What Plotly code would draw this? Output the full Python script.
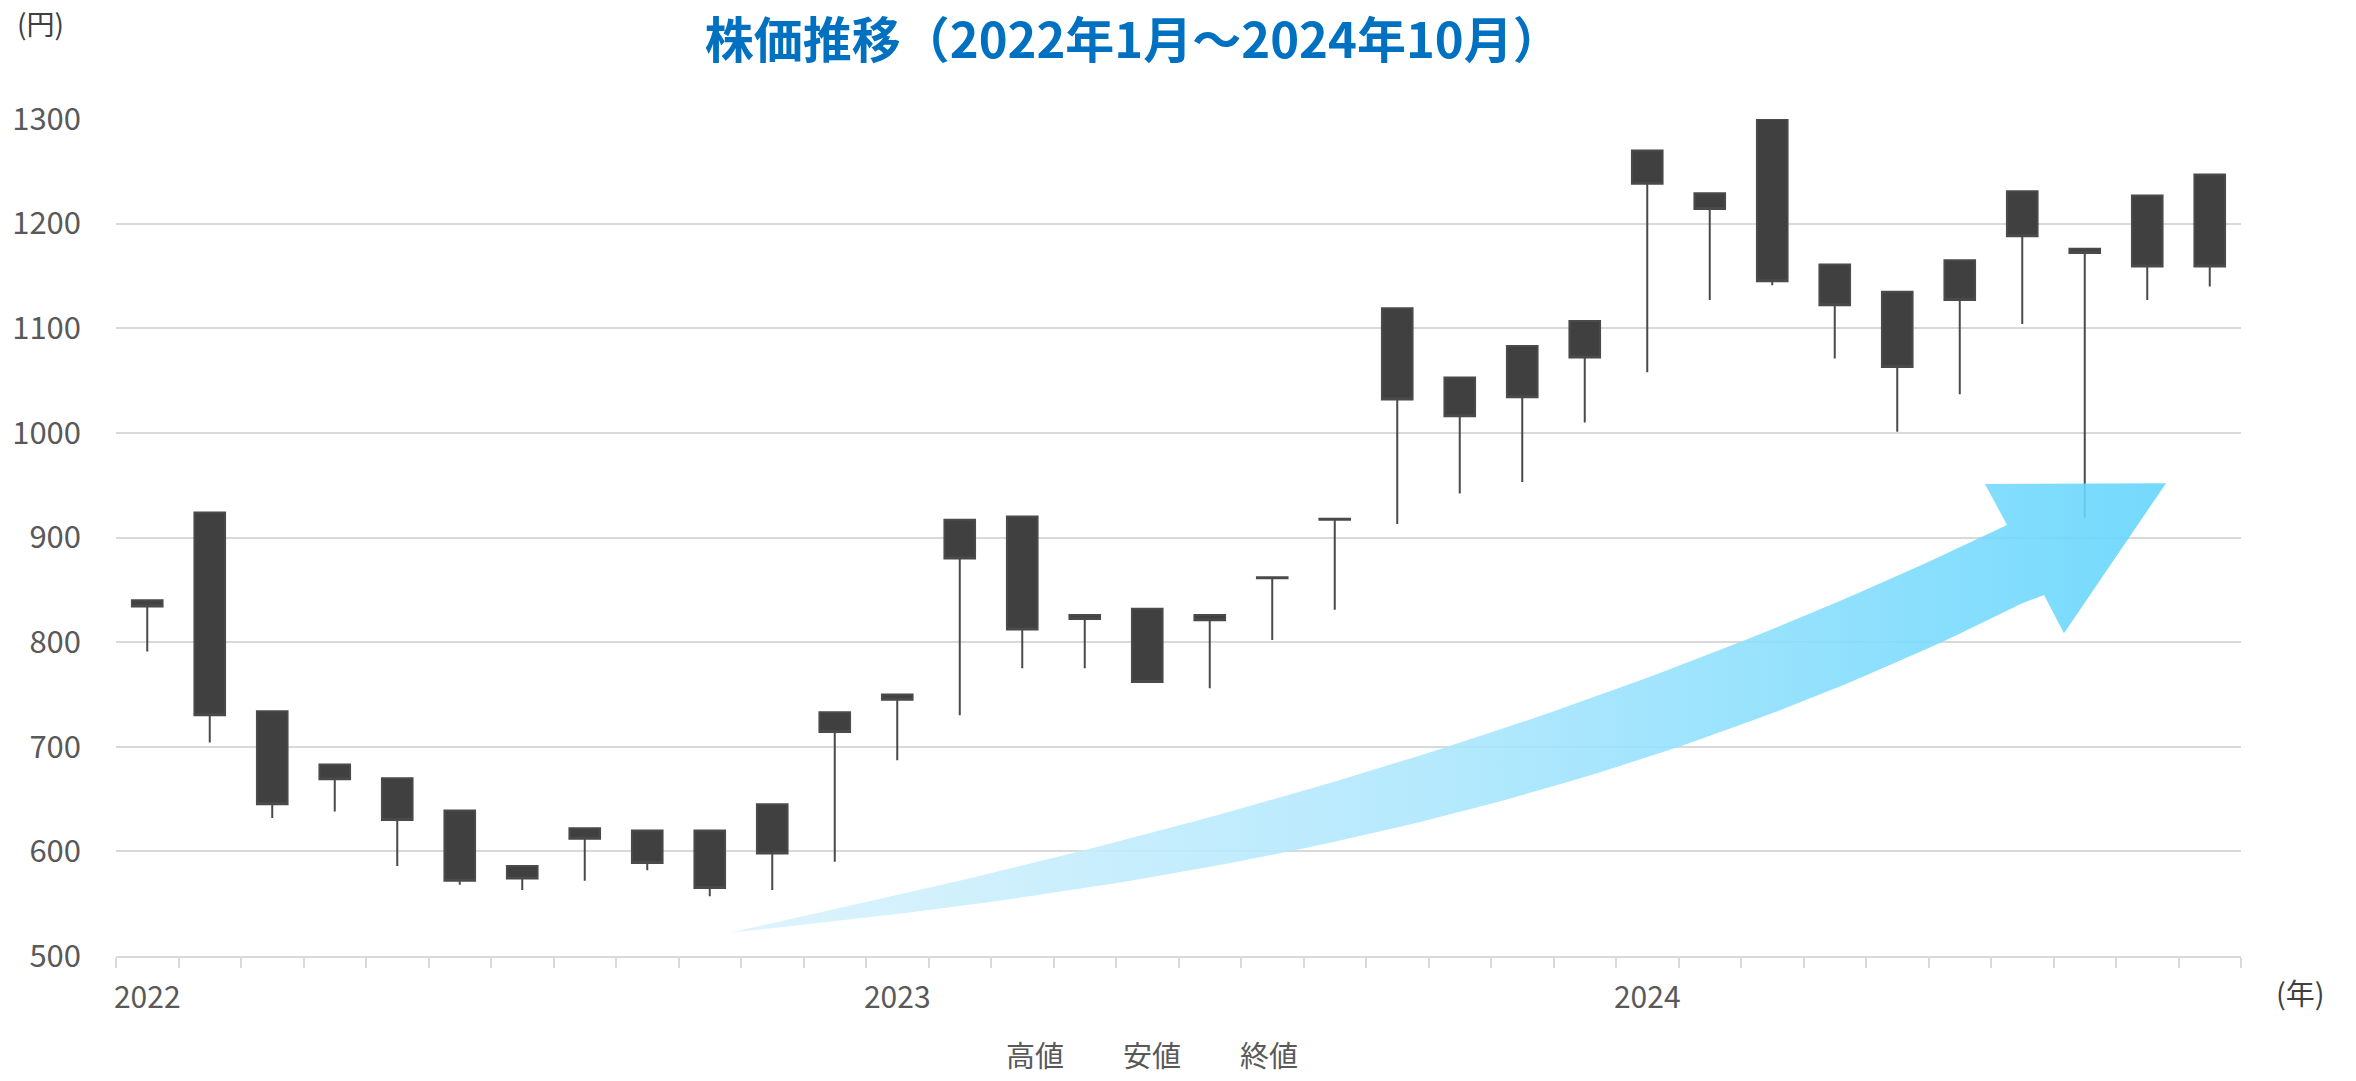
import numpy as np
import plotly.graph_objects as go

# ---- data (monthly, Jan 2022 - Oct 2024) ----
months = ["2022-01", "2022-02", "2022-03", "2022-04", "2022-05", "2022-06",
          "2022-07", "2022-08", "2022-09", "2022-10", "2022-11", "2022-12",
          "2023-01", "2023-02", "2023-03", "2023-04", "2023-05", "2023-06",
          "2023-07", "2023-08", "2023-09", "2023-10", "2023-11", "2023-12",
          "2024-01", "2024-02", "2024-03", "2024-04", "2024-05", "2024-06",
          "2024-07", "2024-08", "2024-09", "2024-10"]
high = [840, 924, 734, 683, 670, 639, 586, 622, 620, 620, 645, 733,
        750, 917, 920, 826, 832, 826, 862, 918, 1119, 1053, 1083, 1107,
        1270, 1229, 1300, 1161, 1135, 1165, 1231, 1176, 1227, 1247]
low = [791, 704, 632, 638, 586, 568, 563, 572, 582, 557, 563, 590,
       687, 730, 775, 775, 762, 756, 802, 831, 913, 942, 953, 1010,
       1058, 1127, 1141, 1071, 1001, 1037, 1104, 919, 1127, 1140]
close = [834, 730, 645, 669, 630, 572, 574, 612, 589, 565, 598, 714,
         745, 880, 812, 822, 762, 821, 861, 917, 1032, 1016, 1034, 1072,
         1238, 1214, 1145, 1122, 1063, 1127, 1188, 1172, 1159, 1159]
series_names = ["高値", "安値", "終値"]
year_labels = [m[:4] if m.endswith("-01") else "" for m in months]

# decorative arrow outline (fractions of plot area)
arrow_upper_x = [0.2888, 0.4516, 0.6283, 0.7632, 0.8899]
arrow_upper_y = [0.0278, 0.1246, 0.2501, 0.3751, 0.5149]
arrow_lower_x = [0.2888, 0.5492, 0.7400, 0.8540, 0.9073]
arrow_lower_y = [0.0278, 0.1246, 0.2501, 0.3751, 0.4313]
arrow_head_x = [0.8795, 0.9647, 0.9167]
arrow_head_y = [0.5639, 0.5648, 0.3855]

GRID = "#d9d9d9"
TXT = "#595959"
FONT = "Noto Sans CJK JP"

fig = go.Figure()

fig.add_trace(go.Candlestick(
    x=months, open=high, high=high, low=low, close=close,
    increasing=dict(line=dict(color="#4a4a4a", width=2), fillcolor="#404040"),
    decreasing=dict(line=dict(color="#4a4a4a", width=2), fillcolor="#404040"),
    whiskerwidth=0, showlegend=False, hoverinfo="x+y",
))

# legend entries (text only, like the original)
for name in series_names:
    fig.add_trace(go.Scatter(
        x=[None], y=[None], mode="lines", name=name,
        line=dict(width=0, color="rgba(0,0,0,0)"), showlegend=True,
    ))

# arrow shape
def smooth_edge(xs, ys, n=60):
    c = np.polyfit(xs, ys, 3)
    xx = np.linspace(xs[0], xs[-1], n)
    yy = np.polyval(c, xx)
    yy[0], yy[-1] = ys[0], ys[-1]
    return list(xx), list(yy)

ux, uy = smooth_edge(arrow_upper_x, arrow_upper_y)
lx, ly = smooth_edge(arrow_lower_x, arrow_lower_y)
ax = ux + arrow_head_x + lx[::-1]
ay = uy + arrow_head_y + ly[::-1]
fig.add_trace(go.Scatter(
    x=ax, y=ay, xaxis="x2", yaxis="y2", mode="lines",
    line=dict(width=0, color="rgba(0,0,0,0)"), fill="toself",
    fillgradient=dict(type="horizontal",
                      colorscale=[[0, "rgba(218,242,252,0.88)"],
                                  [0.5, "rgba(170,230,253,0.88)"],
                                  [1, "rgba(100,213,253,0.9)"]]),
    hoverinfo="skip", showlegend=False,
))

fig.update_layout(
    width=2356, height=1081,
    margin=dict(l=116, r=115, t=119, b=125, autoexpand=False),
    paper_bgcolor="white", plot_bgcolor="white",
    font=dict(family=FONT, color=TXT),
    title=dict(text="<b>株価推移（2022年1月～2024年10月）</b>",
               x=0.481, xanchor="center", y=0.962, yanchor="middle",
               font=dict(size=49, color="#0070C0", family=FONT)),
    showlegend=True,
    legend=dict(orientation="h", x=0.40, xanchor="left", y=-0.1195, yanchor="middle",
                font=dict(size=29, color=TXT), entrywidth=72, entrywidthmode="pixels",
                bgcolor="rgba(0,0,0,0)"),
    xaxis=dict(type="category", categoryorder="array", categoryarray=months,
               range=[-0.5, len(months) - 0.5], rangeslider=dict(visible=False),
               tickmode="array", tickvals=months, ticktext=year_labels,
               tickangle=0, automargin=False,
               tickson="boundaries", ticks="outside", ticklen=10, tickwidth=2,
               tickcolor=GRID, showgrid=False, showline=True, linecolor=GRID,
               linewidth=2, tickfont=dict(size=30, color=TXT), ticklabelstandoff=14,
               zeroline=False),
    yaxis=dict(range=[500, 1300], dtick=100, showgrid=True, gridcolor=GRID,
               gridwidth=2, showline=False, zeroline=False, ticks="", automargin=False,
               tickfont=dict(size=31, color=TXT), ticklabelstandoff=34),
    xaxis2=dict(overlaying="x", anchor="y2", range=[0, 1], visible=False),
    yaxis2=dict(overlaying="y", anchor="x2", range=[0, 1], visible=False),
    annotations=[
        dict(text="(円)", xref="paper", yref="paper", x=-0.0475, y=1.1404,
             xanchor="left", yanchor="top", showarrow=False,
             font=dict(size=28, color="#404040")),
        dict(text="(年)", xref="paper", yref="paper", x=1.0278, y=-0.043,
             xanchor="center", yanchor="middle", showarrow=False,
             font=dict(size=29, color="#404040")),
    ],
)

fig.write_html("out.html", config={"displayModeBar": False},
               post_script="document.body.style.margin='0';document.body.style.padding='0';")
